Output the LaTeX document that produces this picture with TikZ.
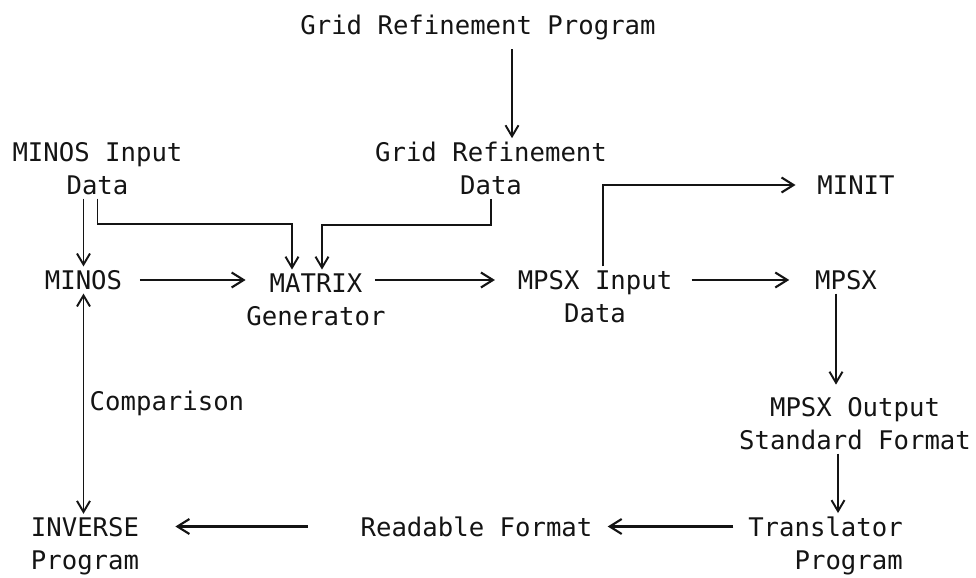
\documentclass[tikz,border=0pt]{standalone}
\usepackage{fontspec}
\usepackage{tikz}
\usetikzlibrary{arrows.meta,positioning,calc}
\newfontfamily\typefont{DejaVu Sans Mono}
\definecolor{ink}{HTML}{141414}

\begin{document}
\begin{tikzpicture}[
  >={Straight Barb[length=2.2mm,width=2.6mm]},
  box/.style={inner sep=2pt,text=ink,align=center,
    font=\typefont\fontsize{14.6}{18.8}\selectfont},
  flow/.style={->,line width=1.1pt,draw=ink},
  feed/.style={-{Straight Barb[length=2.4mm,width=3mm,sep=0.5mm] .},
    line width=1.2pt,draw=ink}
]
  \useasboundingbox (0,0) rectangle (19.52,-11.56);

  \node[box] (title) at (9.56,-0.55) {Grid Refinement Program};
  \node[box] (grd) at (9.82,-3.37) {Grid Refinement\\Data};
  \node[box] (mid) at (1.95,-3.37) {MINOS Input\\Data};
  \node[box] (minit) at (17.12,-3.70) {MINIT};
  \node[box] (minos) at (1.67,-5.60) {MINOS};
  \node[box] (matrix) at (6.32,-5.99) {MATRIX\\Generator};
  \node[box] (mpin) at (11.90,-5.93) {MPSX Input\\Data};
  \node[box] (mpsx) at (16.92,-5.60) {MPSX};
  \node[box] (mpout) at (17.10,-8.47) {MPSX Output\\Standard Format};
  \node[box] (inverse) at (1.70,-10.93) {INVERSE\\Program};
  \node[box] (readable) at (9.53,-10.53) {Readable Format};
  \node[box,align=right] (trans) at (16.51,-10.92) {Translator\\Program};

  \draw[flow,shorten <=3pt] ([xshift=0.68cm]title.south)
    -- ([xshift=0.68cm]title.south |- grd.north);
  \draw[flow] (grd.south) -- ++(0,-0.52) -| ([xshift=0.12cm]matrix.north);
  \draw[flow] (mid.south) -- ++(0,-0.5) -| ([xshift=-0.48cm]matrix.north);
  \draw[flow] (minos |- mid.south) -- (minos.north);
  \draw[flow,<->] (minos.south) -- (minos.south |- inverse.north)
    node[box,midway,right=1pt] {Comparison};

  \draw[feed] ([xshift=0.28cm]minos.east) -- ([xshift=0.11cm]minos -| matrix.west);
  \draw[feed] ([xshift=-0.29cm]matrix.east |- minos)
    -- ([xshift=-0.33cm]minos -| mpin.west);
  \draw[feed] ([xshift=0.31cm]mpin.east |- mpsx) -- ([xshift=-0.39cm]mpsx.west);
  \draw[feed] ([xshift=0.16cm]mpin.north) |- ([xshift=-0.31cm]minit.west);

  \draw[flow,shorten >=5pt] ([xshift=-0.2cm]mpsx.south)
    -- ([xshift=-0.2cm]mpsx.south |- mpout.north);
  \draw[flow] ([xshift=-0.34cm]mpout.south)
    -- ([xshift=-0.34cm]mpout.south |- trans.north);

  \draw[feed] ([xshift=-0.22cm]readable -| trans.west)
    -- ([xshift=0.18cm]readable.east);
  \draw[feed] ([xshift=-0.98cm]readable.west)
    -- ([xshift=0.6cm]readable -| inverse.east);
\end{tikzpicture}
\end{document}
